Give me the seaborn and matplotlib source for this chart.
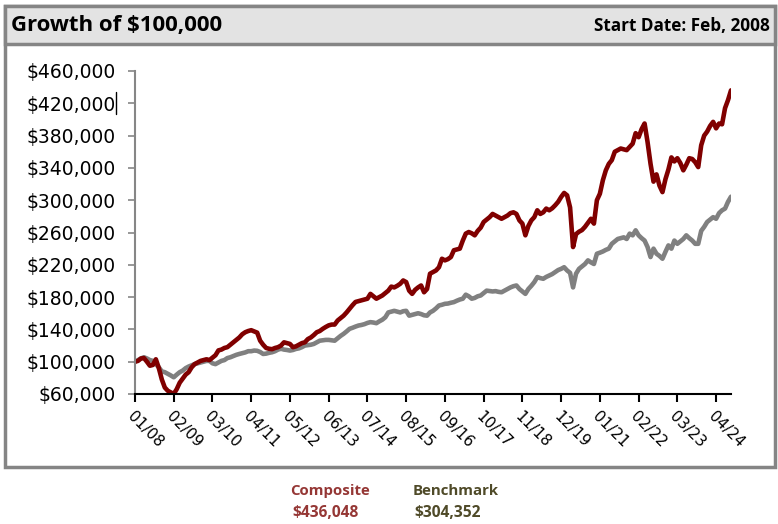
import numpy as np
import pandas as pd
import matplotlib
matplotlib.use("Agg")
import matplotlib.pyplot as plt
from matplotlib.patches import Rectangle
from matplotlib.lines import Line2D
from matplotlib.ticker import FuncFormatter
import seaborn as sns

# ---------------- data (values in $ thousands, monthly from 01/2008) ----------------
composite = [
    100, 101, 104, 104.5, 100, 95, 96, 103, 92, 78, 68, 64,                       # 2008
    62, 60, 66, 74, 79, 84, 87, 93, 97, 99, 101, 102,                             # 2009
    103, 102, 105, 108, 114, 115, 117, 118, 121, 124, 127, 130,                   # 2010
    134, 136.5, 138, 139, 137.5, 136, 126, 121, 117, 116, 115.5, 117,             # 2011
    118, 120, 124, 123, 122, 118, 119, 121, 123, 124, 128, 130,                   # 2012
    133, 136.5, 138, 140.7, 143, 145, 146, 146, 151, 154, 157, 161,               # 2013
    165.5, 170, 174, 175, 176, 177, 178, 184, 181, 178, 180, 182,                 # 2014
    185, 188, 193, 192, 194, 196.5, 200.6, 198.6, 188, 184, 189, 192,             # 2015
    194.4, 186, 190, 209, 211, 213, 217, 227.5, 225.5, 227, 229.6, 238,           # 2016
    239, 240, 250, 258.6, 260.6, 259, 256.5, 262, 266, 273, 276, 279,             # 2017
    283, 281, 279, 277, 279, 281, 284, 285, 283, 275, 271, 256.5,                 # 2018
    268, 275, 279, 287.5, 283, 285, 289.6, 287.5, 290, 293.7, 298, 304,           # 2019
    309, 306, 291, 242, 258, 261, 263, 267, 272, 277, 271, 300,                   # 2020
    308, 324.7, 337, 345, 349.6, 360, 362, 364, 363, 362, 366, 370,               # 2021
    383, 378, 388, 395, 372, 345, 323, 332, 318, 310, 326, 338,                   # 2022
    353, 348, 352, 346, 337, 344, 352, 351, 347, 341, 368, 380,                   # 2023
    385, 392, 397, 389, 395, 394, 414, 424, 436.048,                              # 2024
]
benchmark = [
    100, 102, 104, 105.5, 104, 102, 101, 97, 93, 88, 87, 85,                      # 2008
    83, 80.7, 84, 87, 89, 92, 94, 95.5, 97, 98, 99, 100,                          # 2009
    101, 101, 98, 97, 99, 101, 102, 104.5, 105.5, 107, 108.5, 109.6,              # 2010
    110.5, 111.5, 113, 113, 113.8, 113.5, 112, 109.6, 110, 111, 111.7, 113,       # 2011
    115, 116, 115, 114.5, 113.8, 114.5, 115.8, 116.5, 118, 120, 120.5, 121,       # 2012
    122, 124, 126, 126.5, 127, 127, 126.5, 126, 129, 132, 134.5, 137.5,           # 2013
    140.7, 142, 143.5, 144.8, 145.5, 146.5, 148, 149, 148.5, 147.7, 150, 152,     # 2014
    155, 161, 162, 163, 162, 161, 162.5, 163, 157, 158, 159, 160,                 # 2015
    159, 157.5, 157, 161, 163, 166, 169.6, 170.5, 171.7, 172, 173, 173.8,         # 2016
    175.5, 177, 178, 183, 181, 178, 179, 181, 182, 185, 188, 187.5,               # 2017
    187, 187.4, 186.5, 186, 188, 190, 192, 193.5, 194.4, 190, 187, 184,           # 2018
    190, 194, 198.6, 204.8, 203.5, 202.7, 205, 206.8, 208.5, 211, 213.5, 215,     # 2019
    217, 213, 210, 192, 209, 215, 218, 221, 225.5, 223, 221, 233.7,               # 2020
    235, 236.5, 238.5, 240, 246, 249, 252, 253, 254, 252, 258.6, 256.5,           # 2021
    262.7, 256.5, 253, 250, 242, 229.6, 240, 233.7, 231, 227.5, 236, 244,         # 2022
    240, 250, 246, 249, 252, 256.5, 253, 250, 246, 246, 262, 267,                 # 2023
    273, 276, 279, 277, 284, 287.5, 289.6, 298, 304.352,                          # 2024
]
tick_labels = ["01/08", "02/09", "03/10", "04/11", "05/12", "06/13", "07/14", "08/15",
               "09/16", "10/17", "11/18", "12/19", "01/21", "02/22", "03/23", "04/24"]
y_ticks = [60000, 100000, 140000, 180000, 220000, 260000, 300000, 340000, 380000, 420000, 460000]
series_names = ["Benchmark", "Composite"]
final_values = ["$304,352", "$436,048"]

n = len(composite)
df = pd.DataFrame({
    "idx": np.concatenate([np.arange(n), np.arange(n)]),
    "value": np.concatenate([np.array(benchmark), np.array(composite)]) * 1000,
    "series": ["Benchmark"] * n + ["Composite"] * n,
})

# ---------------- style ----------------
sns.set_style("white")
plt.rcParams["font.family"] = ["Open Sans", "DejaVu Sans"]

W, H = 778, 524
fig = plt.figure(figsize=(W / 100, H / 100), dpi=100)

def fx(px):
    return px / W

def fy(py):
    return 1 - py / H

# outer frame + header band
frame_col = "#858585"
fig.add_artist(Rectangle((fx(5), fy(467)), fx(770), (467 - 6) / H, transform=fig.transFigure,
                         facecolor="white", edgecolor=frame_col, lw=2.5, zorder=0))
fig.add_artist(Rectangle((fx(5), fy(44)), fx(770), (44 - 6) / H, transform=fig.transFigure,
                         facecolor="#E3E3E3", edgecolor=frame_col, lw=2.5, zorder=1))
fig.text(fx(11), fy(26), "Growth of $100,000", fontsize=16, fontweight="bold",
         ha="left", va="center", color="black")
fig.text(fx(770), fy(26), "Start Date: Feb, 2008", fontsize=12.3, fontweight="bold",
         ha="right", va="center", color="black")

# axes
ax = fig.add_axes([fx(135), fy(394), fx(731) - fx(135), (394 - 71) / H])
palette = {"Composite": "#800000", "Benchmark": "#808080"}
sns.lineplot(data=df, x="idx", y="value", hue="series", hue_order=series_names,
             palette=palette, linewidth=3.3, ax=ax, legend=False, sort=False)
ax.set_xlim(0, n - 1)
ax.set_ylim(60000, 460000)
ax.set_yticks(y_ticks)
ax.yaxis.set_major_formatter(FuncFormatter(lambda v, p: f"${v:,.0f}"))
ax.set_xticks(np.arange(0, n, 13))
ax.set_xticklabels(tick_labels, rotation=-45, ha="left", va="top", rotation_mode="anchor",
                   family="DejaVu Sans")
for lbl in ax.get_yticklabels():
    lbl.set_family("DejaVu Sans")
ax.set_xlabel("")
ax.set_ylabel("")
for s in ["top", "right"]:
    ax.spines[s].set_visible(False)
ax.spines["left"].set_color("#868686")
ax.spines["left"].set_linewidth(1.5)
ax.spines["bottom"].set_color("black")
ax.spines["bottom"].set_linewidth(1.5)
ax.tick_params(axis="y", direction="out", length=5, width=1.2, color="#868686",
               labelsize=13.5, pad=9, labelcolor="black", left=True)
ax.tick_params(axis="x", direction="out", length=6, width=1.5, color="black",
               labelsize=11, pad=5, labelcolor="black", bottom=True)

# stray cursor mark next to $420,000
fig.add_artist(Line2D([fx(115.5), fx(115.5)], [fy(92), fy(114)], transform=fig.transFigure,
                      color="black", lw=1))

# legend-like text below
comp_col = "#953735"
bench_col = "#4F4A28"
fig.text(fx(290), fy(491), "Composite", color=comp_col, fontsize=10.8, fontweight="bold",
         ha="left", va="center")
fig.text(fx(292), fy(513), final_values[1], color=comp_col, fontsize=11.2, fontweight="bold",
         ha="left", va="center")
fig.text(fx(413), fy(491), "Benchmark", color=bench_col, fontsize=10.8, fontweight="bold",
         ha="left", va="center")
fig.text(fx(414), fy(513), final_values[0], color=bench_col, fontsize=11.2, fontweight="bold",
         ha="left", va="center")

fig.savefig("out.png", dpi=100)
